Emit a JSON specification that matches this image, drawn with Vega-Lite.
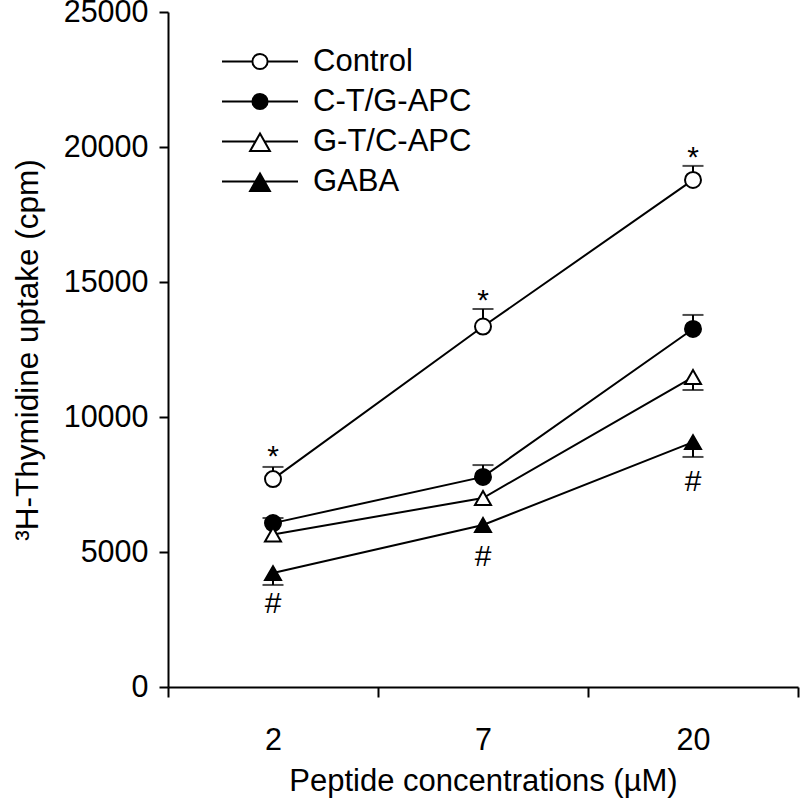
{
  "$schema": "https://vega.github.io/schema/vega-lite/v6.json",
  "autosize": "none",
  "width": 630,
  "height": 675,
  "padding": {"left": 168, "top": 12, "right": 2, "bottom": 114},
  "background": "white",
  "config": {
    "view": {"stroke": null},
    "font": "Liberation Sans",
    "axis": {
      "domainColor": "black", "domainWidth": 2, "tickColor": "black", "tickWidth": 2,
      "labelFont": "Liberation Sans", "labelFontSize": 30.5, "labelColor": "black",
      "titleFont": "Liberation Sans", "titleFontSize": 31, "titleColor": "black", "titleFontWeight": "normal",
      "grid": false
    }
  },
  "datasets": {
    "pts": [
      {"conc": "2", "group": "Control", "value": 7700, "errEnd": 8150},
      {"conc": "7", "group": "Control", "value": 13350, "errEnd": 14000},
      {"conc": "20", "group": "Control", "value": 18780, "errEnd": 19300},
      {"conc": "2", "group": "C-T/G-APC", "value": 6070, "errEnd": 6260},
      {"conc": "7", "group": "C-T/G-APC", "value": 7780, "errEnd": 8220},
      {"conc": "20", "group": "C-T/G-APC", "value": 13260, "errEnd": 13780},
      {"conc": "2", "group": "G-T/C-APC", "value": 5650, "errEnd": null},
      {"conc": "7", "group": "G-T/C-APC", "value": 7000, "errEnd": null},
      {"conc": "20", "group": "G-T/C-APC", "value": 11480, "errEnd": 11000},
      {"conc": "2", "group": "GABA", "value": 4220, "errEnd": 3780},
      {"conc": "7", "group": "GABA", "value": 6000, "errEnd": null},
      {"conc": "20", "group": "GABA", "value": 9070, "errEnd": 8520}
    ],
    "notes": [
      {"conc": "2", "label": "*", "pos": 8200},
      {"conc": "7", "label": "*", "pos": 13950},
      {"conc": "20", "label": "*", "pos": 19250},
      {"conc": "2", "label": "#", "pos": 2750},
      {"conc": "7", "label": "#", "pos": 4500},
      {"conc": "20", "label": "#", "pos": 7270}
    ]
  },
  "layer": [
    {
      "data": {"name": "pts"},
      "mark": {"type": "line", "color": "black", "strokeWidth": 2},
      "encoding": {
        "x": {"field": "conc", "type": "nominal", "sort": ["2", "7", "20"], "title": "Peptide concentrations (µM)",
              "scale": {"type": "band", "paddingInner": 0, "paddingOuter": 0},
              "axis": {"tickBand": "extent", "tickSize": 10, "labelPadding": 28, "labelAngle": 0, "titleBaseline": "alphabetic", "titleY": 103}},
        "y": {"field": "value", "type": "quantitative", "title": "³H-Thymidine uptake (cpm)",
              "scale": {"domain": [0, 25000], "nice": false},
              "axis": {"values": [0, 5000, 10000, 15000, 20000, 25000], "tickSize": 9, "labelPadding": 11,
                       "titleX": -131, "titleBaseline": "alphabetic", "titleAlign": "center", "titleFontSize": 31.5, "format": "d"}},
        "detail": {"field": "group"}
      }
    },
    {
      "data": {"name": "pts"},
      "transform": [{"filter": "isValid(datum.errEnd)"}],
      "mark": {"type": "rule", "color": "black", "strokeWidth": 2},
      "encoding": {
        "x": {"field": "conc", "type": "nominal", "sort": ["2", "7", "20"], "title": "Peptide concentrations (µM)"},
        "y": {"field": "value", "type": "quantitative", "title": "³H-Thymidine uptake (cpm)"},
        "y2": {"field": "errEnd"}
      }
    },
    {
      "data": {"name": "pts"},
      "transform": [{"filter": "isValid(datum.errEnd)"}],
      "mark": {"type": "tick", "color": "black", "thickness": 2, "size": 21, "orient": "horizontal"},
      "encoding": {
        "x": {"field": "conc", "type": "nominal", "sort": ["2", "7", "20"], "title": "Peptide concentrations (µM)"},
        "y": {"field": "errEnd", "type": "quantitative", "title": "³H-Thymidine uptake (cpm)"}
      }
    },
    {
      "data": {"name": "pts"},
      "mark": {"type": "point", "filled": true, "stroke": "black", "strokeWidth": 2, "opacity": 1},
      "encoding": {
        "x": {"field": "conc", "type": "nominal", "sort": ["2", "7", "20"], "title": "Peptide concentrations (µM)"},
        "y": {"field": "value", "type": "quantitative", "title": "³H-Thymidine uptake (cpm)"},
        "shape": {"field": "group", "type": "nominal",
                  "scale": {"domain": ["Control", "C-T/G-APC", "G-T/C-APC", "GABA"], "range": ["circle", "circle", "triangle-up", "triangle-up"]},
                  "legend": null},
        "fill": {"field": "group", "type": "nominal",
                 "scale": {"domain": ["Control", "C-T/G-APC", "G-T/C-APC", "GABA"], "range": ["white", "black", "white", "black"]},
                 "legend": null},
        "size": {"field": "group", "type": "nominal",
                 "scale": {"domain": ["Control", "C-T/G-APC", "G-T/C-APC", "GABA"], "range": [256, 256, 420, 420]},
                 "legend": null}
      }
    },
    {
      "data": {"name": "notes"},
      "mark": {"type": "text", "font": "Liberation Sans", "fontSize": 30, "baseline": "alphabetic", "align": "center", "color": "black"},
      "encoding": {
        "x": {"field": "conc", "type": "nominal", "sort": ["2", "7", "20"], "title": "Peptide concentrations (µM)"},
        "y": {"field": "pos", "type": "quantitative", "title": "³H-Thymidine uptake (cpm)"},
        "text": {"field": "label"}
      }
    },
    {
      "data": {"name": "pts"},
      "transform": [{"filter": "datum.value < 0"}],
      "mark": {"type": "point", "filled": false, "strokeWidth": 2, "size": 5776, "opacity": 1},
      "encoding": {
        "shape": {"field": "group", "type": "nominal",
                  "scale": {"domain": ["Control", "C-T/G-APC", "G-T/C-APC", "GABA"],
                            "range": ["M-1,0H-0.2A0.2,0.2,0,1,1,0.2,0A0.2,0.2,0,1,1,-0.2,0M0.2,0H1",
                                      "M-1,0H-0.2A0.2,0.2,0,1,1,0.2,0A0.2,0.2,0,1,1,-0.2,0M0.2,0H1",
                                      "M-1,0H-0.12M0.12,0H1M0,-0.21L0.26,0.25L-0.26,0.25Z",
                                      "M-1,0H-0.12M0.12,0H1M0,-0.21L0.26,0.25L-0.26,0.25Z"]},
                  "legend": {"title": null, "orient": "none", "legendX": 53, "legendY": 34, "padding": 0,
                             "symbolSize": 5776, "symbolStrokeWidth": 2, "symbolOffset": 0,
                             "clipHeight": 31, "rowPadding": 8, "labelOffset": 14,
                             "labelFont": "Liberation Sans", "labelFontSize": 31, "labelColor": "black", "labelLimit": 0}},
        "fill": {"field": "group", "type": "nominal",
                 "scale": {"domain": ["Control", "C-T/G-APC", "G-T/C-APC", "GABA"], "range": ["white", "black", "white", "black"]},
                 "legend": {"title": null, "orient": "none", "legendX": 53, "legendY": 34, "padding": 0,
                            "symbolSize": 5776, "symbolStrokeWidth": 2, "symbolOffset": 0,
                            "clipHeight": 31, "rowPadding": 8, "labelOffset": 14,
                            "labelFont": "Liberation Sans", "labelFontSize": 31, "labelColor": "black", "labelLimit": 0}},
        "stroke": {"field": "group", "type": "nominal",
                   "scale": {"domain": ["Control", "C-T/G-APC", "G-T/C-APC", "GABA"], "range": ["black", "black", "black", "black"]},
                   "legend": {"title": null, "orient": "none", "legendX": 53, "legendY": 34, "padding": 0,
                              "symbolSize": 5776, "symbolStrokeWidth": 2, "symbolOffset": 0,
                              "clipHeight": 31, "rowPadding": 8, "labelOffset": 14,
                              "labelFont": "Liberation Sans", "labelFontSize": 31, "labelColor": "black", "labelLimit": 0}}
      }
    }
  ],
  "resolve": {"scale": {"shape": "independent", "fill": "independent", "size": "independent", "stroke": "independent"}}
}
